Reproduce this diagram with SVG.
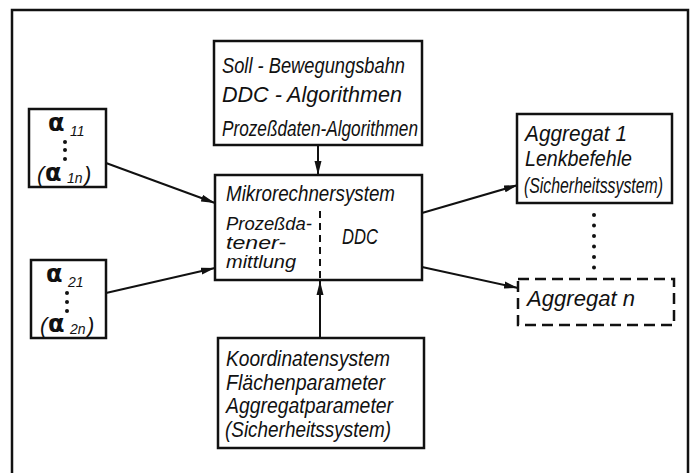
<svg xmlns="http://www.w3.org/2000/svg" width="693" height="473" viewBox="0 0 693 473">
<style>
  .box { fill: #fff; stroke: #111; stroke-width: 2.5; }
  .dash { fill: #fff; stroke: #111; stroke-width: 2.5; stroke-dasharray: 11 6; }
  .ln { fill: none; stroke: #111; stroke-width: 2; }
  .t { font-family: "Liberation Sans", Arial, sans-serif; font-style: italic; font-size: 22px; fill: #111; }
  .m { font-family: "Liberation Sans", Arial, sans-serif; font-style: italic; font-size: 19px; fill: #111; }
  .a { font-family: "DejaVu Sans", sans-serif; font-weight: bold; font-size: 24px; fill: #111; }
  .s { font-family: "Liberation Sans", Arial, sans-serif; font-style: italic; font-size: 14px; fill: #111; }
  .dot { fill: #111; }
</style>
<defs>
  <marker id="ah" viewBox="0 0 14 8" refX="14" refY="4" markerWidth="14" markerHeight="8" markerUnits="userSpaceOnUse" orient="auto">
    <path d="M0,0.5 L14,4 L0,7.5 Z" fill="#111"/>
  </marker>
</defs>
<rect width="693" height="473" fill="#fff"/>
<path id="frame" d="M12,480 L12,10 L688,10 L688,480" fill="none" stroke="#111" stroke-width="2.5"/>

<g id="connectors">
  <line class="ln" x1="318" y1="146" x2="318" y2="175" marker-end="url(#ah)"/>
  <line class="ln" x1="320" y1="338" x2="320" y2="281" marker-end="url(#ah)"/>
  <line class="ln" x1="106" y1="163" x2="215" y2="203" marker-end="url(#ah)"/>
  <line class="ln" x1="106" y1="293" x2="215" y2="268" marker-end="url(#ah)"/>
  <line class="ln" x1="422" y1="213" x2="518" y2="185" marker-end="url(#ah)"/>
  <line class="ln" x1="422" y1="267" x2="518" y2="288" marker-end="url(#ah)"/>
</g>

<g id="top">
  <rect class="box" x="214" y="41" width="208" height="104"/>
  <text class="t" x="222" y="73" textLength="183" lengthAdjust="spacingAndGlyphs">Soll - Bewegungsbahn</text>
  <text class="t" x="222" y="102" textLength="180" lengthAdjust="spacingAndGlyphs">DDC - Algorithmen</text>
  <text class="t" x="222" y="136" textLength="196" lengthAdjust="spacingAndGlyphs">Prozeßdaten-Algorithmen</text>
</g>

<g id="center">
  <rect class="box" x="215" y="175" width="207" height="105"/>
  <text class="t" x="226" y="201" textLength="169" lengthAdjust="spacingAndGlyphs">Mikrorechnersystem</text>
  <text class="m" x="226" y="230" textLength="86" lengthAdjust="spacingAndGlyphs">Prozeßda-</text>
  <text class="m" x="226" y="249" textLength="60" lengthAdjust="spacingAndGlyphs">tener-</text>
  <text class="m" x="226" y="268" textLength="70" lengthAdjust="spacingAndGlyphs">mittlung</text>
  <line x1="320" y1="211" x2="320" y2="280" stroke="#111" stroke-width="2" stroke-dasharray="7 5"/>
  <text class="t" x="342" y="244" textLength="36" lengthAdjust="spacingAndGlyphs">DDC</text>
</g>

<g id="bottom">
  <rect class="box" x="218" y="338" width="206" height="110"/>
  <text class="t" x="226" y="366" textLength="164" lengthAdjust="spacingAndGlyphs">Koordinatensystem</text>
  <text class="t" x="226" y="390" textLength="159" lengthAdjust="spacingAndGlyphs">Flächenparameter</text>
  <text class="t" x="226" y="413" textLength="167" lengthAdjust="spacingAndGlyphs">Aggregatparameter</text>
  <text class="t" x="225" y="437" textLength="166" lengthAdjust="spacingAndGlyphs">(Sicherheitssystem)</text>
</g>

<g id="in1">
  <rect class="box" x="29" y="109" width="77" height="78"/>
  <text class="a" x="48" y="131">α</text>
  <text class="s" x="70" y="136">11</text>
  <circle class="dot" cx="65" cy="142" r="2"/>
  <circle class="dot" cx="65" cy="150" r="2"/>
  <circle class="dot" cx="65" cy="159" r="2"/>
  <text class="t" x="37" y="182">(</text>
  <text class="a" x="45" y="181">α</text>
  <text class="s" x="67" y="183">1n</text>
  <text class="t" x="84" y="182">)</text>
</g>

<g id="in2">
  <rect class="box" x="31" y="260" width="75" height="78"/>
  <text class="a" x="46" y="282">α</text>
  <text class="s" x="68" y="287">21</text>
  <circle class="dot" cx="67" cy="293" r="2"/>
  <circle class="dot" cx="67" cy="302" r="2"/>
  <circle class="dot" cx="67" cy="311" r="2"/>
  <text class="t" x="40" y="333">(</text>
  <text class="a" x="48" y="332">α</text>
  <text class="s" x="70" y="334">2n</text>
  <text class="t" x="87" y="333">)</text>
</g>

<g id="out1">
  <rect class="box" x="517" y="114" width="155" height="89"/>
  <text class="t" x="525" y="141" textLength="102" lengthAdjust="spacingAndGlyphs">Aggregat  1</text>
  <text class="t" x="525" y="166" textLength="107" lengthAdjust="spacingAndGlyphs">Lenkbefehle</text>
  <text class="t" x="524" y="193" font-size="20" textLength="139" lengthAdjust="spacingAndGlyphs">(Sicherheitssystem)</text>
</g>

<g id="dots">
  <circle class="dot" cx="594" cy="215" r="2"/>
  <circle class="dot" cx="594" cy="225.5" r="2"/>
  <circle class="dot" cx="594" cy="236" r="2"/>
  <circle class="dot" cx="594" cy="246.5" r="2"/>
  <circle class="dot" cx="594" cy="257" r="2"/>
  <circle class="dot" cx="594" cy="267.5" r="2"/>
</g>

<g id="outn">
  <rect class="dash" x="518" y="279" width="156" height="46"/>
  <text class="t" x="527" y="306" textLength="108" lengthAdjust="spacingAndGlyphs">Aggregat  n</text>
</g>
</svg>
